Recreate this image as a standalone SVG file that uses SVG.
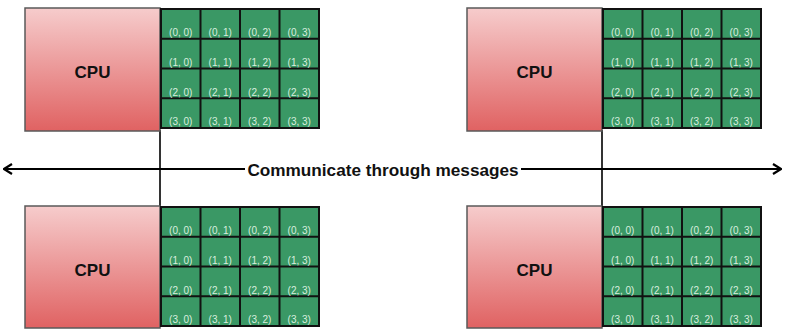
<svg xmlns="http://www.w3.org/2000/svg" width="785" height="332" viewBox="0 0 785 332">
  <defs>
    <linearGradient id="cpuFill" x1="0" y1="0" x2="0" y2="1">
      <stop offset="0" stop-color="#f6cccc"/>
      <stop offset="1" stop-color="#e06262"/>
    </linearGradient>
    <marker id="chevron" viewBox="0 0 10 12" refX="9" refY="6" markerWidth="10" markerHeight="12" markerUnits="userSpaceOnUse" orient="auto-start-reverse">
      <path d="M1,1 L9,6 L1,11" fill="none" stroke="#000" stroke-width="2.2"/>
    </marker>
    <g id="memGrid">
      <rect x="136" y="1" width="158" height="119" fill="#3a9865" stroke="#111" stroke-width="2"/>
      <path d="M175.5,1V120M215,1V120M254.5,1V120M136,30.75H294M136,60.5H294M136,90.25H294" stroke="#111" stroke-width="2" fill="none"/>
      <g class="cell">
        <text x="155.75" y="28">(0, 0)</text><text x="195.25" y="28">(0, 1)</text><text x="234.75" y="28">(0, 2)</text><text x="274.25" y="28">(0, 3)</text>
        <text x="155.75" y="58">(1, 0)</text><text x="195.25" y="58">(1, 1)</text><text x="234.75" y="58">(1, 2)</text><text x="274.25" y="58">(1, 3)</text>
        <text x="155.75" y="87.5">(2, 0)</text><text x="195.25" y="87.5">(2, 1)</text><text x="234.75" y="87.5">(2, 2)</text><text x="274.25" y="87.5">(2, 3)</text>
        <text x="155.75" y="117">(3, 0)</text><text x="195.25" y="117">(3, 1)</text><text x="234.75" y="117">(3, 2)</text><text x="274.25" y="117">(3, 3)</text>
      </g>
    </g>
  </defs>
  <style>
    .cpu { fill: url(#cpuFill); stroke: #5a5a5a; stroke-width: 1.5; }
    .cpuLabel { font-family: "Liberation Sans", Arial, sans-serif; font-weight: bold; font-size: 17px; fill: #111; text-anchor: middle; }
    .cell text { font-family: "Liberation Sans", Arial, sans-serif; font-size: 10px; fill: #d8eedf; text-anchor: middle; }
    .link { stroke: #333; stroke-width: 2; fill: none; }
    .bus { stroke: #000; stroke-width: 2; fill: none; }
    .busLabel { font-family: "Liberation Sans", Arial, sans-serif; font-weight: bold; font-size: 17.2px; fill: #111; text-anchor: middle; }
  </style>
  <rect width="785" height="332" fill="#fff"/>

  <!-- links from each top node down to each bottom node, plus the message bus -->
  <g id="connectors">
    <line class="link" x1="160" y1="130" x2="160" y2="207"/>
    <line class="link" x1="602" y1="130" x2="602" y2="207"/>
    <line class="bus" x1="4" y1="169" x2="245" y2="169" marker-start="url(#chevron)"/>
    <line class="bus" x1="521" y1="169" x2="781" y2="169" marker-end="url(#chevron)"/>
    <text class="busLabel" x="383" y="175.5">Communicate through messages</text>
  </g>

  <g id="node-top-left" transform="translate(25,8)">
    <rect class="cpu" x="0" y="0" width="135" height="123"/>
    <text class="cpuLabel" x="67.5" y="70">CPU</text>
    <use href="#memGrid"/>
  </g>
  <g id="node-top-right" transform="translate(467,8)">
    <rect class="cpu" x="0" y="0" width="135" height="123"/>
    <text class="cpuLabel" x="67.5" y="70">CPU</text>
    <use href="#memGrid"/>
  </g>
  <g id="node-bottom-left" transform="translate(25,206)">
    <rect class="cpu" x="0" y="0" width="135" height="122"/>
    <text class="cpuLabel" x="67.5" y="70">CPU</text>
    <use href="#memGrid"/>
  </g>
  <g id="node-bottom-right" transform="translate(467,206)">
    <rect class="cpu" x="0" y="0" width="135" height="122"/>
    <text class="cpuLabel" x="67.5" y="70">CPU</text>
    <use href="#memGrid"/>
  </g>
</svg>
